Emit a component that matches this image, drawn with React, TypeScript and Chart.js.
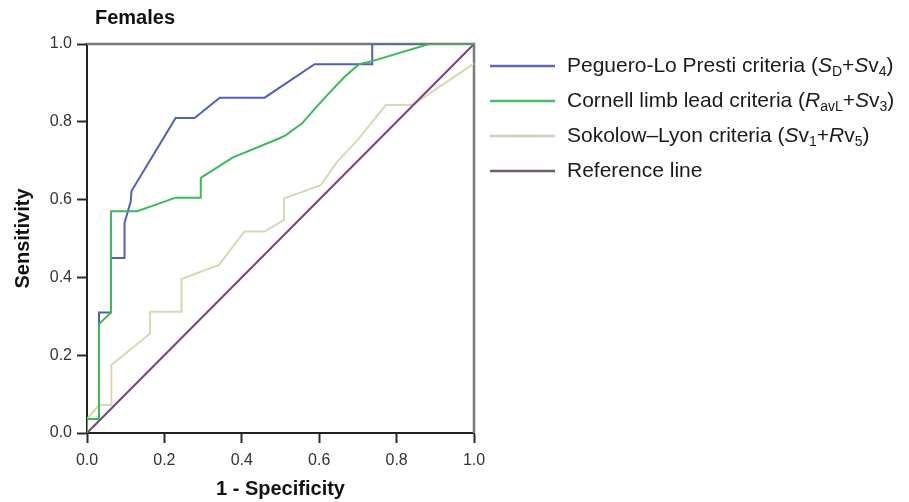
import React, { useEffect, useRef } from "react";
import { Chart, registerables } from "chart.js";

Chart.register(...registerables);

// ---- data ----
const pegueroFPR = [0, 0, 0.031, 0.031, 0.062, 0.062, 0.097, 0.097, 0.113, 0.115, 0.229, 0.278, 0.343, 0.459, 0.588, 0.737, 0.737, 1];
const pegueroTPR = [0, 0.036, 0.036, 0.31, 0.31, 0.45, 0.45, 0.54, 0.595, 0.622, 0.81, 0.81, 0.862, 0.862, 0.948, 0.948, 1, 1];

const cornellFPR = [0, 0, 0.031, 0.031, 0.062, 0.062, 0.13, 0.229, 0.294, 0.294, 0.376, 0.496, 0.513, 0.556, 0.59, 0.625, 0.665, 0.703, 0.737, 0.884, 1];
const cornellTPR = [0, 0.036, 0.036, 0.28, 0.31, 0.57, 0.57, 0.605, 0.605, 0.656, 0.708, 0.757, 0.765, 0.796, 0.835, 0.873, 0.915, 0.948, 0.956, 1, 1];

const sokolowFPR = [0, 0, 0.031, 0.063, 0.063, 0.163, 0.163, 0.244, 0.244, 0.341, 0.407, 0.459, 0.509, 0.509, 0.604, 0.643, 0.699, 0.772, 0.841, 1];
const sokolowTPR = [0, 0.036, 0.072, 0.072, 0.175, 0.256, 0.312, 0.312, 0.396, 0.432, 0.518, 0.518, 0.548, 0.603, 0.637, 0.693, 0.753, 0.843, 0.843, 0.95];

const referenceFPR = [0, 1];
const referenceTPR = [0, 1];

const axisTicks = [0, 0.2, 0.4, 0.6, 0.8, 1.0];

const chartTitle = "Females";
const xTitle = "1 - Specificity";
const yTitle = "Sensitivity";

type Seg = { t: string; it?: boolean; sub?: boolean };
const legendPeguero: Seg[] = [
  { t: "Peguero-Lo Presti criteria (" },
  { t: "S", it: true },
  { t: "D", sub: true },
  { t: "+" },
  { t: "S", it: true },
  { t: "v" },
  { t: "4", sub: true },
  { t: ")" },
];
const legendCornell: Seg[] = [
  { t: "Cornell limb lead criteria (" },
  { t: "R", it: true },
  { t: "avL", sub: true },
  { t: "+" },
  { t: "S", it: true },
  { t: "v" },
  { t: "3", sub: true },
  { t: ")" },
];
const legendSokolow: Seg[] = [
  { t: "Sokolow\u2013Lyon criteria (" },
  { t: "S", it: true },
  { t: "v" },
  { t: "1", sub: true },
  { t: "+" },
  { t: "R", it: true },
  { t: "v" },
  { t: "5", sub: true },
  { t: ")" },
];
const legendReference: Seg[] = [{ t: "Reference line" }];

const colPeguero = "#4f60b8";
const colCornell = "#3fb858";
const colSokolow = "#d8d8b4";
const colReference = "#7e3f7e";

const legendItems = [
  { segs: legendPeguero, color: "#6068b8" },
  { segs: legendCornell, color: "#4cba6c" },
  { segs: legendSokolow, color: "#cfcfc0" },
  { segs: legendReference, color: "#6f5b72" },
];

const FONT = "'Liberation Sans', Arial, Helvetica, sans-serif";

const zip = (xs: number[], ys: number[]) => xs.map((x, i) => ({ x, y: ys[i] }));

const framePlugin = {
  id: "frame",
  beforeDatasetsDraw(chart: any) {
    const { ctx, chartArea } = chart;
    ctx.save();
    ctx.strokeStyle = "#7a7a7a";
    ctx.lineWidth = 2.5;
    ctx.beginPath();
    ctx.moveTo(chartArea.left, chartArea.top);
    ctx.lineTo(chartArea.right, chartArea.top);
    ctx.lineTo(chartArea.right, chartArea.bottom);
    ctx.stroke();
    ctx.restore();
  },
  afterDraw(chart: any) {
    const { ctx } = chart;
    ctx.save();
    // title
    ctx.fillStyle = "#111";
    ctx.font = `bold 20px ${FONT}`;
    ctx.textBaseline = "middle";
    ctx.textAlign = "left";
    ctx.fillText(chartTitle, 95, 18);
    // legend
    const rowY = [66, 101, 136, 171];
    legendItems.forEach((item, i) => {
      const y = rowY[i];
      ctx.strokeStyle = item.color;
      ctx.lineWidth = 2.5;
      ctx.beginPath();
      ctx.moveTo(490, y);
      ctx.lineTo(555, y);
      ctx.stroke();
      let cx = 567;
      ctx.fillStyle = "#1a1a1a";
      ctx.textBaseline = "middle";
      for (const s of item.segs) {
        const size = s.sub ? 14 : 21;
        ctx.font = `${s.it ? "italic " : ""}${size}px ${FONT}`;
        ctx.fillText(s.t, cx, y + (s.sub ? 6 : 0));
        cx += ctx.measureText(s.t).width;
      }
    });
    ctx.restore();
  },
};

export default function App() {
  const ref = useRef<HTMLCanvasElement | null>(null);
  useEffect(() => {
    if (!ref.current) return;
    const tickFont = { family: FONT, size: 16 };
    const chart = new Chart(ref.current, {
      type: "scatter",
      data: {
        datasets: [
          {
            label: "Peguero-Lo Presti criteria",
            data: zip(pegueroFPR, pegueroTPR),
            borderColor: colPeguero,
            borderWidth: 2,
            showLine: true,
            pointRadius: 0,
            order: 1,
          },
          {
            label: "Cornell limb lead criteria",
            data: zip(cornellFPR, cornellTPR),
            borderColor: colCornell,
            borderWidth: 2,
            showLine: true,
            pointRadius: 0,
            order: 0,
          },
          {
            label: "Sokolow-Lyon criteria",
            data: zip(sokolowFPR, sokolowTPR),
            borderColor: colSokolow,
            borderWidth: 2,
            showLine: true,
            pointRadius: 0,
            order: 3,
          },
          {
            label: "Reference line",
            data: zip(referenceFPR, referenceTPR),
            borderColor: colReference,
            borderWidth: 2,
            showLine: true,
            pointRadius: 0,
            order: 2,
          },
        ],
      },
      options: {
        animation: false,
        responsive: true,
        maintainAspectRatio: false,
        layout: { padding: { left: 0, top: 44, right: 435, bottom: 0 } },
        plugins: {
          legend: { display: false },
          tooltip: { enabled: false },
          title: { display: false },
        },
        scales: {
          x: {
            type: "linear",
            min: 0,
            max: 1,
            afterFit: (s: any) => {
              s.height = 69;
            },
            afterBuildTicks: (s: any) => {
              s.ticks = axisTicks.map((v) => ({ value: v }));
            },
            ticks: {
              font: tickFont,
              color: "#333",
              padding: 8,
              maxRotation: 0,
              autoSkip: false,
              callback: (v: any) => Number(v).toFixed(1),
            },
            grid: { drawOnChartArea: false, drawTicks: true, tickLength: 10, tickWidth: 2, tickColor: "#2a2a2a" },
            border: { display: true, color: "#222", width: 2 },
            title: {
              display: true,
              text: xTitle,
              font: { family: FONT, size: 20, weight: "bold" },
              color: "#111",
              padding: { top: 0, bottom: 1 },
            },
          },
          y: {
            type: "linear",
            min: 0,
            max: 1,
            afterFit: (s: any) => {
              s.width = 87;
            },
            afterBuildTicks: (s: any) => {
              s.ticks = axisTicks.map((v) => ({ value: v }));
            },
            ticks: {
              font: tickFont,
              color: "#333",
              padding: 5,
              autoSkip: false,
              callback: (v: any) => Number(v).toFixed(1),
            },
            grid: { drawOnChartArea: false, drawTicks: true, tickLength: 10, tickWidth: 2, tickColor: "#2a2a2a" },
            border: { display: true, color: "#222", width: 2 },
            title: {
              display: true,
              text: yTitle,
              font: { family: FONT, size: 20, weight: "bold" },
              color: "#111",
              padding: { top: 11, bottom: 0 },
            },
          },
        },
      },
      plugins: [framePlugin],
    });
    return () => chart.destroy();
  }, []);
  return (
    <div style={{ position: "fixed", left: 0, top: 0, width: 909, height: 502, background: "#fff" }}>
      <canvas ref={ref} />
    </div>
  );
}
